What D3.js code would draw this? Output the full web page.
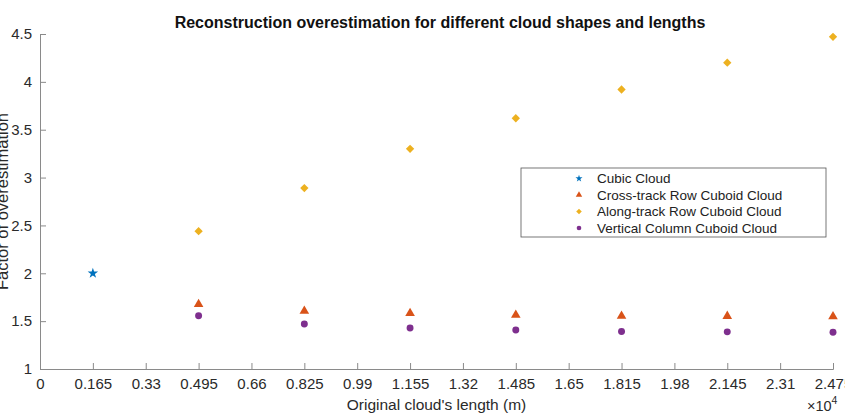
<!DOCTYPE html>
<html>
<head>
<title>Reconstruction overestimation</title>
<script src="https://d3js.org/d3.v7.min.js"></script>
<style>
  body { margin: 0; background: #fff; }
  text { font-family: "Liberation Sans", Arial, Helvetica, sans-serif; }
</style>
</head>
<body>
<script>
// lengths in units of 10^4 m
const lengths = [0.495, 0.825, 1.155, 1.485, 1.815, 2.145, 2.475];
const cubicX = [0.165];
const cubicY = [2.0];
const crossTrack = [1.676, 1.606, 1.582, 1.564, 1.554, 1.552, 1.548];
const alongTrack = [2.44, 2.89, 3.30, 3.62, 3.92, 4.20, 4.47];
const vertical = [1.557, 1.47, 1.428, 1.408, 1.392, 1.388, 1.385];
const xTicks = [0, 0.165, 0.33, 0.495, 0.66, 0.825, 0.99, 1.155, 1.32, 1.485, 1.65, 1.815, 1.98, 2.145, 2.31, 2.475];
const yTicks = [1, 1.5, 2, 2.5, 3, 3.5, 4, 4.5];
const seriesNames = ["Cubic Cloud", "Cross-track Row Cuboid Cloud", "Along-track Row Cuboid Cloud", "Vertical Column Cuboid Cloud"];
const colors = ["#0072BD", "#D95319", "#EDB120", "#7E2F8E"];

const w = 845, h = 416;
const mLeft = 40, mRight = 833, mTop = 34, mBottom = 369;

const svg = d3.select("body").append("svg").attr("width", w).attr("height", h);

const x = d3.scaleLinear().domain([0, 2.475]).range([mLeft, mRight]);
const y = d3.scaleLinear().domain([1, 4.5]).range([mBottom, mTop]);

// axes (MATLAB-style inward ticks)
const xAxis = d3.axisBottom(x).tickValues(xTicks).tickFormat(d => String(+d.toFixed(3))).tickSize(-6).tickPadding(9);
const yAxis = d3.axisLeft(y).tickValues(yTicks).tickFormat(d => String(d)).tickSize(-6).tickPadding(8);

const gx = svg.append("g").attr("transform", "translate(0," + mBottom + ")").call(xAxis);
const gy = svg.append("g").attr("transform", "translate(" + mLeft + ",0)").call(yAxis);
[gx, gy].forEach(g => {
  g.select(".domain").attr("stroke", "#8a8a8a").attr("stroke-width", 1);
  g.selectAll(".tick line").attr("stroke", "#8a8a8a");
  g.selectAll(".tick text").attr("fill", "#2a2a2a").style("font-size", "15px");
});

// title and labels
svg.append("text").attr("x", 440).attr("y", 28).attr("text-anchor", "middle")
  .style("font-size", "16px").style("font-weight", "bold").attr("fill", "#111")
  .text("Reconstruction overestimation for different cloud shapes and lengths");
svg.append("text").attr("x", (mLeft + mRight) / 2).attr("y", 410).attr("text-anchor", "middle")
  .style("font-size", "15.5px").attr("fill", "#2a2a2a").text("Original cloud's length (m)");
svg.append("text").attr("transform", "translate(8," + ((mTop + mBottom) / 2) + ") rotate(-90)")
  .attr("text-anchor", "middle").style("font-size", "16.5px").attr("fill", "#2a2a2a")
  .text("Factor of overestimation");
const exp = svg.append("text").attr("x", 807).attr("y", 411).style("font-size", "14.5px").attr("fill", "#2a2a2a");
exp.append("tspan").text("\u00d710");
exp.append("tspan").attr("dy", -7).style("font-size", "10.5px").text("4");

// markers
const shapes = [d3.symbolStar, d3.symbolTriangle, d3.symbolDiamond2, d3.symbolCircle];
const sizes = [34, 40, 44, 38];
function sym(i) { return d3.symbol().type(shapes[i]).size(sizes[i])(); }

const series = [
  { xs: cubicX, ys: cubicY },
  { xs: lengths, ys: crossTrack },
  { xs: lengths, ys: alongTrack },
  { xs: lengths, ys: vertical }
];
series.forEach((s, i) => {
  svg.append("g").selectAll("path").data(s.ys).enter().append("path")
    .attr("d", sym(i))
    .attr("transform", (d, j) => "translate(" + x(s.xs[j]) + "," + y(d) + ")")
    .attr("fill", colors[i]);
});

// legend
const lg = svg.append("g").attr("transform", "translate(521,168)");
lg.append("rect").attr("width", 305).attr("height", 69).attr("fill", "#fff").attr("stroke", "#555").attr("stroke-width", 0.8);
seriesNames.forEach((name, i) => {
  const yy = 10.5 + i * 16.5;
  lg.append("path").attr("d", d3.symbol().type(shapes[i]).size(sizes[i] * 0.45)())
    .attr("transform", "translate(58," + yy + ")").attr("fill", colors[i]);
  lg.append("text").attr("x", 76).attr("y", yy + 4.5).style("font-size", "13.5px").attr("fill", "#222").text(name);
});
</script>
</body>
</html>
